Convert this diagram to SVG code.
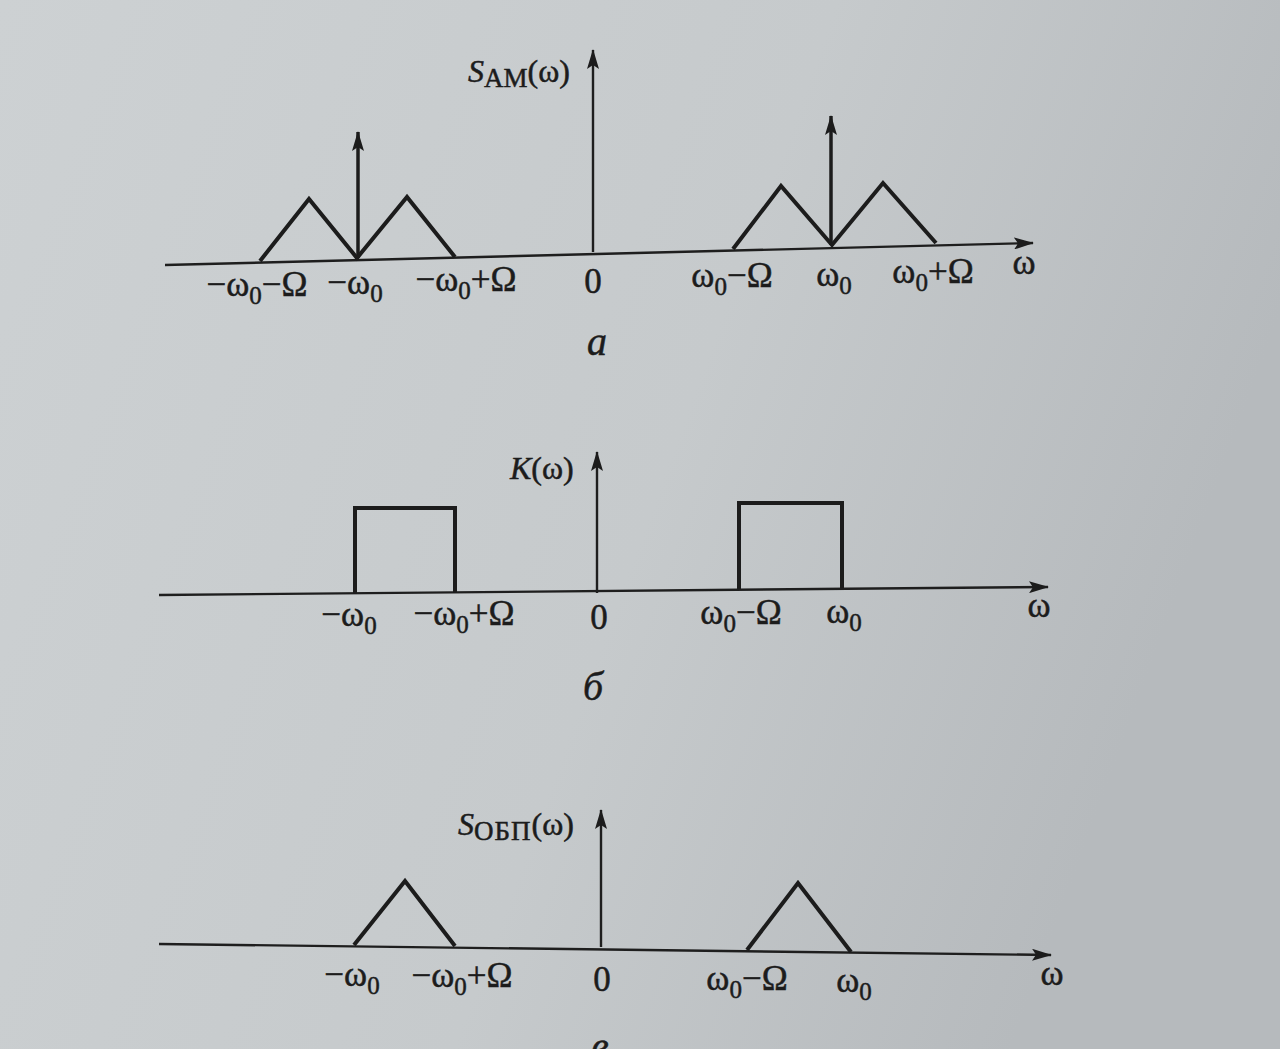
<svg xmlns="http://www.w3.org/2000/svg" width="1280" height="1049" viewBox="0 0 1280 1049">
<defs>
<linearGradient id="bg" x1="0" y1="0" x2="1" y2="0.3">
<stop offset="0" stop-color="#cdd1d3"/>
<stop offset="0.6" stop-color="#c6cacc"/>
<stop offset="1" stop-color="#b6babd"/>
</linearGradient>
<marker id="arr" viewBox="0 0 20 12" refX="19" refY="6" markerWidth="20" markerHeight="12" markerUnits="userSpaceOnUse" orient="auto">
<path d="M0,0 L20,6 L0,12 L4,6 Z" fill="#1c1c1c"/>
</marker>
</defs>
<style>
.ax{stroke:#1e1e1e;stroke-width:2.4;fill:none}
.sig{stroke:#1c1c1c;stroke-width:4;fill:none;stroke-linejoin:miter}
.imp{stroke:#1c1c1c;stroke-width:3.5;fill:none}
text{font-family:"Liberation Serif","Times New Roman",serif;fill:#1c1c1c;stroke:#1c1c1c;stroke-width:0.5}
.lb{font-size:35px;text-anchor:middle}
.ti{font-size:32px}
.cap{font-size:40px;font-style:italic;text-anchor:middle}
.sub{font-size:25px}
.tsub{font-size:27px}
</style>
<rect x="0" y="0" width="1280" height="1049" fill="url(#bg)"/>

<g id="plot-a">
<g id="a-axes">
<line class="ax" x1="165" y1="265" x2="1033" y2="243" marker-end="url(#arr)"/>
<line class="ax" x1="593" y1="252" x2="593" y2="50" marker-end="url(#arr)"/>
</g>
<g id="a-spectrum">
<polyline class="sig" points="260,261 309,199 357,258 407,197 455,257"/>
<polyline class="sig" points="733,249 781,186 832,245 883,183 936,243"/>
<line class="imp" x1="358" y1="258" x2="358" y2="132" marker-end="url(#arr)"/>
<line class="imp" x1="831" y1="245" x2="831" y2="116" marker-end="url(#arr)"/>
</g>
<g id="a-labels">
<text class="ti" x="468" y="82"><tspan font-style="italic">S</tspan><tspan class="tsub" dy="5">AM</tspan><tspan dy="-5">(ω)</tspan></text>
<text class="lb" x="257" y="296">−ω<tspan class="sub" dy="8">0</tspan><tspan dy="-8">−Ω</tspan></text>
<text class="lb" x="355" y="294">−ω<tspan class="sub" dy="8">0</tspan></text>
<text class="lb" x="466" y="291">−ω<tspan class="sub" dy="8">0</tspan><tspan dy="-8">+Ω</tspan></text>
<text class="lb" x="593" y="293">0</text>
<text class="lb" x="732" y="287">ω<tspan class="sub" dy="8">0</tspan><tspan dy="-8">−Ω</tspan></text>
<text class="lb" x="834" y="286">ω<tspan class="sub" dy="8">0</tspan></text>
<text class="lb" x="933" y="283">ω<tspan class="sub" dy="8">0</tspan><tspan dy="-8">+Ω</tspan></text>
<text class="lb" x="1024" y="274">ω</text>
<text class="cap" x="597" y="355">a</text>
</g>
</g>

<g id="plot-b">
<g id="b-axes">
<line class="ax" x1="159" y1="595" x2="1048" y2="587" marker-end="url(#arr)"/>
<line class="ax" x1="597" y1="593" x2="597" y2="452" marker-end="url(#arr)"/>
</g>
<g id="b-filter">
<polyline class="sig" points="355,594 355,508 455,508 455,593"/>
<polyline class="sig" points="739,589 739,503 842,503 842,588"/>
</g>
<g id="b-labels">
<text class="ti" x="510" y="479"><tspan font-style="italic">K</tspan>(ω)</text>
<text class="lb" x="349" y="626">−ω<tspan class="sub" dy="8">0</tspan></text>
<text class="lb" x="464" y="625">−ω<tspan class="sub" dy="8">0</tspan><tspan dy="-8">+Ω</tspan></text>
<text class="lb" x="599" y="629">0</text>
<text class="lb" x="741" y="624">ω<tspan class="sub" dy="8">0</tspan><tspan dy="-8">−Ω</tspan></text>
<text class="lb" x="844" y="623">ω<tspan class="sub" dy="8">0</tspan></text>
<text class="lb" x="1039" y="617">ω</text>
<text class="cap" x="593" y="700">б</text>
</g>
</g>

<g id="plot-c">
<g id="c-axes">
<line class="ax" x1="159" y1="944" x2="1051" y2="955" marker-end="url(#arr)"/>
<line class="ax" x1="601" y1="947" x2="601" y2="810" marker-end="url(#arr)"/>
</g>
<g id="c-spectrum">
<polyline class="sig" points="354,945 405,881 455,946"/>
<polyline class="sig" points="747,950 798,883 851,952"/>
</g>
<g id="c-labels">
<text class="ti" x="458" y="835"><tspan font-style="italic">S</tspan><tspan class="tsub" dy="5" font-size="30" letter-spacing="1">ОБП</tspan><tspan dy="-5">(ω)</tspan></text>
<text class="lb" x="352" y="986">−ω<tspan class="sub" dy="8">0</tspan></text>
<text class="lb" x="462" y="987">−ω<tspan class="sub" dy="8">0</tspan><tspan dy="-8">+Ω</tspan></text>
<text class="lb" x="602" y="991">0</text>
<text class="lb" x="747" y="990">ω<tspan class="sub" dy="8">0</tspan><tspan dy="-8">−Ω</tspan></text>
<text class="lb" x="854" y="992">ω<tspan class="sub" dy="8">0</tspan></text>
<text class="lb" x="1052" y="985">ω</text>
<text class="cap" x="600" y="1060">в</text>
</g>
</g>
</svg>
